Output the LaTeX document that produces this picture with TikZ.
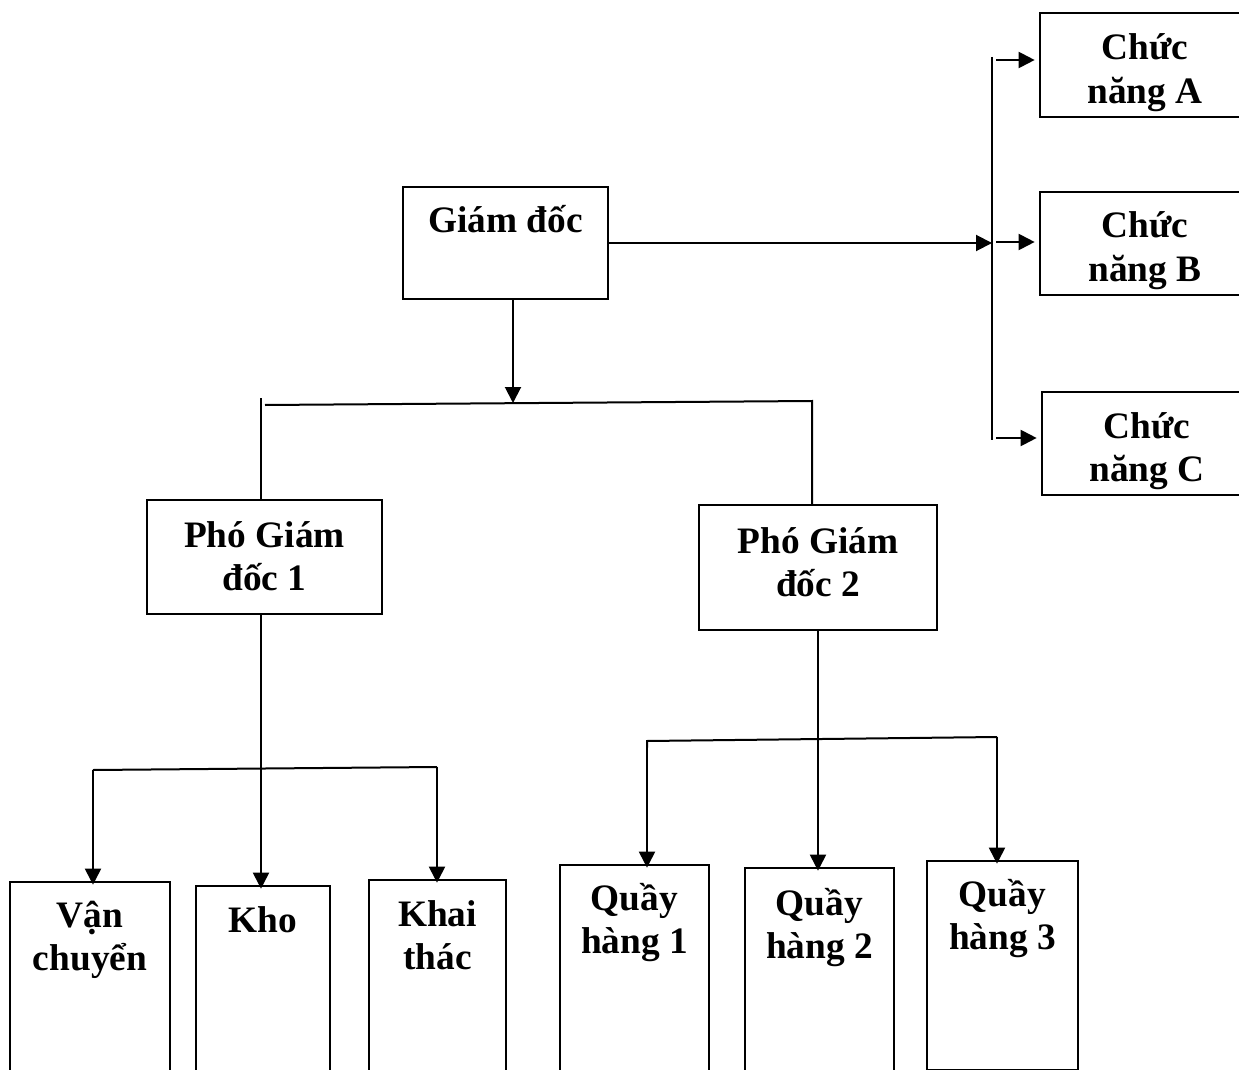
\documentclass[tikz,border=0pt]{standalone}
\usepackage{fontspec}
\setmainfont{Liberation Serif}
\usetikzlibrary{arrows.meta}
\newdimen\pxu \pxu=0.75pt
% box label: width, height, first-baseline offset, text (all sizes in px)
\newcommand{\boxlabel}[4]{\parbox[t][#2\pxu][t]{#1\pxu}{\centering\rule{0pt}{#3\pxu}#4}}
\begin{document}
\begin{tikzpicture}[x=0.75pt,y=-0.75pt,
  box/.style={draw, line width=1.5pt, anchor=north west, inner sep=0pt, outer sep=0pt,
    font=\fontsize{28pt}{32.5pt}\selectfont\bfseries},
  conn/.style={line width=1.5pt},
  arr/.style={conn, -{Triangle[length=12pt,width=12pt]}}]
\useasboundingbox (0,0) rectangle (1239,1070);
\clip (0,0) rectangle (1239,1070);

% boxes
\node[box] (gd)   at (403,187)  {\boxlabel{205}{112}{46}{Giám đốc}};
\node[box] (ca)   at (1040,13)  {\boxlabel{210}{104}{47}{Chức\\năng A}};
\node[box] (cb)   at (1040,192) {\boxlabel{210}{103}{46}{Chức\\năng B}};
\node[box] (cc)   at (1042,392) {\boxlabel{210}{103}{46}{Chức\\năng C}};
\node[box] (pgd1) at (147,500)  {\boxlabel{235}{114}{47}{Phó Giám\\đốc 1}};
\node[box] (pgd2) at (699,505)  {\boxlabel{238}{125}{48}{Phó Giám\\đốc 2}};
\node[box] (vc)   at (10,882)   {\boxlabel{160}{200}{45}{Vận\\chuyển}};
\node[box] (kho)  at (196,886)  {\boxlabel{134}{200}{46}{Kho}};
\node[box] (kt)   at (369,880)  {\boxlabel{137}{200}{46}{Khai\\thác}};
\node[box] (qh1)  at (560,865)  {\boxlabel{149}{215}{45}{Quầy\\hàng 1}};
\node[box] (qh2)  at (745,868)  {\boxlabel{149}{212}{47}{Quầy\\hàng 2}};
\node[box] (qh3)  at (927,861)  {\boxlabel{151}{209}{45}{Quầy\\hàng 3}};

% function bus on the right
\coordinate (busT) at (992,57);
\coordinate (busB) at (992,440);
\draw[conn] (busT) -- (busB);
\draw[arr] (gd.east) -- (gd.east -| busT);
\coordinate (tA) at (996,60);
\coordinate (tB) at (996,242);
\coordinate (tC) at (996,438);
\draw[arr, shorten >=4pt] (tA) -- (tA -| ca.west);
\draw[arr, shorten >=4pt] (tB) -- (tB -| cb.west);
\draw[arr, shorten >=4pt] (tC) -- (tC -| cc.west);

% director to deputies
\coordinate (j1) at (513,403);
\draw[arr] (j1 |- gd.south) -- (j1);
\coordinate (hL) at (265,405);
\coordinate (hR) at (812,401);
\draw[conn] (hL) -- (hR) -- (hR |- pgd2.north);
\coordinate (vL) at (261,398);
\draw[conn] (vL) -- (vL |- pgd1.north);

% deputy 1 to its units
\draw[arr] (vL |- pgd1.south) -- ([yshift=-2]vL |- kho.north);
\coordinate (kL) at (93,770);
\coordinate (kR) at (437,767);
\draw[conn] (kL) -- (kR);
\draw[arr] (kL) -- ([yshift=-2]kL |- vc.north);
\draw[arr] (kR) -- ([yshift=-2]kR |- kt.north);

% deputy 2 to its counters
\draw[arr] (pgd2.south) -- ([yshift=-2]pgd2.south |- qh2.north);
\coordinate (qL) at (647,741);
\coordinate (qR) at (997,737);
\draw[conn] ([yshift=-5]qL) -- (qL) -- (qR);
\draw[arr] (qL) -- ([yshift=-2]qL |- qh1.north);
\draw[arr] (qR) -- ([yshift=-2]qR |- qh3.north);
\end{tikzpicture}
\end{document}
